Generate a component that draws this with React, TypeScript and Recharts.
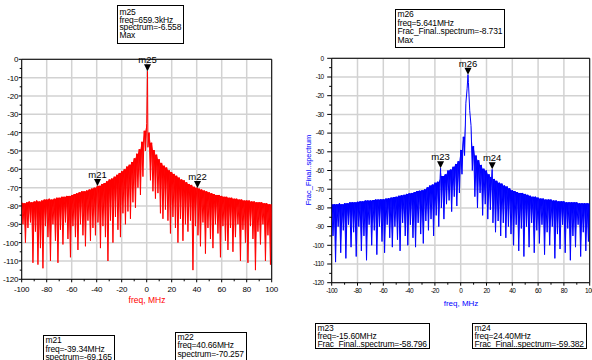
import { ComposedChart, Line, Area, XAxis, YAxis, CartesianGrid, ReferenceDot, ReferenceArea } from 'recharts';

// spectrum levels in dB, one value per MHz from -100 to +100
const redLevels = [
  -78, -90, -78.5, -100, -78, -92, -77.5, -89, -78, -111,
  -77.5, -94, -77, -112, -77.5, -103, -77, -114, -76.5, -91,
  -76.5, -97, -76, -110, -76.5, -90, -76, -99, -75.5, -111,
  -75.5, -93, -75, -101, -75, -89, -74.5, -98, -74.5, -108,
  -74, -91, -73.5, -97, -73, -104, -72.5, -90, -72, -96,
  -72, -102, -71.5, -88, -71, -99, -70.5, -92, -70, -96,
  -69.5, -89, -69, -103, -68, -91, -67.5, -97, -66.5, -110,
  -65.5, -88, -65, -100, -64, -86, -63, -93, -62, -97,
  -61, -84, -60, -90, -58.5, -83, -57.5, -87, -56, -78,
  -54, -81, -51.5, -70, -49, -74, -45, -64, -39, -50,
  -35,
  -48, -40, -66, -45.5, -72, -49.5, -76, -52, -73, -54.5,
  -84, -56.5, -87, -58, -82, -59, -88, -60.5, -95, -61.5,
  -86, -62.5, -92, -63.5, -100, -64.5, -87, -65.5, -99, -66,
  -90, -67, -94, -68, -88, -68.5, -115, -69.5, -91, -70,
  -96, -70.5, -102, -71, -89, -71.5, -106, -72, -92, -72.5,
  -98, -73, -103, -73.5, -90, -74, -95, -74, -108, -74.5,
  -91, -75, -99, -75, -104, -75.5, -92, -75.5, -105, -76,
  -97, -76, -90, -76.5, -110, -76.5, -93, -77, -100, -77,
  -111, -77, -91, -77.5, -98, -77.5, -115, -78, -94, -78,
  -101, -78, -90, -78.5, -110, -78.5, -96, -79, -112, -79,
];

const blueLevels = [
  -78, -95, -78, -109, -78, -90, -77.5, -104, -78, -92,
  -77.5, -107, -77.5, -89, -77, -101, -77, -93, -77, -106,
  -76.7, -90, -76.5, -103, -76.5, -95, -76, -108, -76, -89,
  -76, -100, -75.8, -92, -75.5, -105, -75.5, -90, -75.4, -98,
  -75.4, -104, -75, -89, -74.8, -96, -74.5, -101, -74.2, -90,
  -74, -97, -73.5, -103, -73.2, -88, -73, -95, -72.5, -100,
  -72.2, -89, -72, -96, -71.5, -101, -71, -88, -70.8, -94,
  -70.5, -99, -70, -87, -69, -92, -68, -86, -67.5, -95,
  -66.5, -84, -66, -90, -64.5, -80, -63, -86, -62, -78,
  -60, -76, -59.5, -82, -58, -74, -56.5, -79, -55, -72,
  -49,
  -62, -42, -52, -24, -16, -13, -28, -36, -60, -47,
  -74, -52, -80, -54.5, -72, -57, -84, -59, -78, -60,
  -86, -62, -81, -63.5, -88, -64.5, -93, -65.5, -87, -66.5,
  -95, -67, -88, -68, -96, -68.5, -90, -69.5, -94, -70.5,
  -100, -71, -89, -71.5, -103, -72, -91, -72, -106, -72.5,
  -90, -73, -101, -73.5, -88, -74, -104, -74, -92, -74.5,
  -99, -75, -89, -75, -105, -75.5, -93, -75.5, -100, -75.5,
  -90, -76, -107, -76, -94, -76.5, -102, -76.5, -89, -76.5,
  -104, -77, -91, -77, -108, -77, -95, -77, -101, -77,
  -89, -77.5, -106, -77.5, -93, -77.5, -103, -77.5, -98, -77.5,
];

type Marker = { name: string; freq: number; value: number; freqText: string; max?: boolean };

const leftMarkers: Marker[] = [
  { name: 'm25', freq: 0.6593, value: -6.558, freqText: '659.3kHz', max: true },
  { name: 'm21', freq: -39.34, value: -69.165, freqText: '-39.34MHz' },
  { name: 'm22', freq: 40.66, value: -70.257, freqText: '40.66MHz' },
];

const rightMarkers: Marker[] = [
  { name: 'm26', freq: 5.641, value: -8.731, freqText: '5.641MHz', max: true },
  { name: 'm23', freq: -15.6, value: -58.796, freqText: '-15.60MHz' },
  { name: 'm24', freq: 24.4, value: -59.382, freqText: '24.40MHz' },
];

const freqTicks = [-100, -90, -80, -70, -60, -50, -40, -30, -20, -10, 0, 10, 20, 30, 40, 50, 60, 70, 80, 90, 100];
const freqGrid = [-100, -80, -60, -40, -20, 0, 20, 40, 60, 80, 100];
const levelTicks = [0, -5, -10, -15, -20, -25, -30, -35, -40, -45, -50, -55, -60, -65, -70, -75, -80, -85, -90, -95, -100, -105, -110, -115, -120];
const levelGrid = [0, -10, -20, -30, -40, -50, -60, -70, -80, -90, -100, -110, -120];

const FONT = '"Liberation Sans", Arial, Helvetica, sans-serif';

// merge the per-MHz samples with the marker readings, and add a band that fills
// the comb between neighbouring peaks (the trace is far denser than the pixels)
const buildTrace = (levels: number[], markers: Marker[]) => {
  const pts = [
    ...levels.map((level, i) => ({ freq: i - 100, level })),
    ...markers.map((m) => ({ freq: m.freq, level: m.value })),
  ].sort((a, b) => a.freq - b.freq);
  return pts.map((p, i) => {
    const prev = pts[i - 1] ? pts[i - 1].level : p.level;
    const next = pts[i + 1] ? pts[i + 1].level : p.level;
    const cap = Math.max(p.level, Math.min(prev, next));
    return { ...p, band: [p.level, cap] };
  });
};

type AxisStyle = {
  font: number;
  xLabelDy: number;
  yLabelDx: number;
  yMajor: number;
  yMinor: number;
  xMajor: number;
  xMinor: number;
  spacing: number;
};

const makeXTick = (s: AxisStyle) => (p: any) => {
  const v = p.payload.value;
  const major = v % 20 === 0;
  return (
    <g>
      <line x1={p.x} x2={p.x} y1={p.y} y2={p.y + (major ? s.xMajor : s.xMinor)} stroke="#000" />
      {major && (
        <text x={p.x} y={p.y + s.xLabelDy} textAnchor="middle" fontSize={s.font} fontFamily={FONT} letterSpacing={s.spacing} fill="#000">
          {v}
        </text>
      )}
    </g>
  );
};

const makeYTick = (s: AxisStyle) => (p: any) => {
  const v = p.payload.value;
  const major = v % 10 === 0;
  return (
    <g>
      <line x1={p.x} x2={p.x - (major ? s.yMajor : s.yMinor)} y1={p.y} y2={p.y} stroke="#000" />
      {major && (
        <text x={p.x + s.yLabelDx} y={p.y + s.font * 0.36} textAnchor="end" fontSize={s.font} fontFamily={FONT} letterSpacing={s.spacing} fill="#000">
          {v}
        </text>
      )}
    </g>
  );
};

const markerShape = (name: string) => (p: any) => (
  <g>
    <polygon points={`${p.cx - 3.5},${p.cy - 7} ${p.cx + 3.5},${p.cy - 7} ${p.cx},${p.cy}`} fill="#000" />
    <text x={p.cx} y={p.cy - 8} textAnchor="middle" fontSize={9.5} fontFamily={FONT} fill="#000">
      {name}
    </text>
  </g>
);

type PanelProps = {
  left: number;
  width: number;
  top: number;
  right: number;
  yAxisWidth: number;
  xAxisHeight: number;
  color: string;
  levels: number[];
  markers: Marker[];
  axis: AxisStyle;
};

function SpectrumPanel({ left, width, top, right, yAxisWidth, xAxisHeight, color, levels, markers, axis }: PanelProps) {
  const data = buildTrace(levels, markers);
  return (
    <div style={{ position: 'absolute', left, top: 0 }}>
      <ComposedChart width={width} height={320} margin={{ top, right, left: 0, bottom: 0 }} data={data}>
        <CartesianGrid stroke="#d2d2d2" strokeWidth={1.5} horizontalValues={levelGrid} verticalValues={freqGrid} />
        <XAxis
          dataKey="freq"
          type="number"
          domain={[-100, 100]}
          ticks={freqTicks}
          interval={0}
          height={xAxisHeight}
          tickSize={0}
          tickMargin={0}
          axisLine={false}
          tickLine={false}
          tick={makeXTick(axis)}
          allowDataOverflow
        />
        <YAxis
          type="number"
          domain={[-120, 0]}
          ticks={levelTicks}
          interval={0}
          width={yAxisWidth}
          tickSize={0}
          tickMargin={0}
          axisLine={false}
          tickLine={false}
          tick={makeYTick(axis)}
          allowDataOverflow
        />
        <Area
          dataKey="band"
          type="linear"
          stroke="none"
          fill={color}
          fillOpacity={1}
          dot={false}
          activeDot={false}
          isAnimationActive={false}
        />
        <Line
          dataKey="level"
          type="linear"
          stroke={color}
          strokeWidth={1}
          strokeLinejoin="bevel"
          dot={false}
          activeDot={false}
          isAnimationActive={false}
        />
        <ReferenceArea x1={-100} x2={100} y1={-120} y2={0} fill="none" stroke="#000" strokeWidth={1} />
        {markers.map((m) => (
          <ReferenceDot key={m.name} x={m.freq} y={m.value} r={3} shape={markerShape(m.name)} />
        ))}
      </ComposedChart>
    </div>
  );
}

const boxLayout: Record<string, { left: number; top: number; height: number; lh: number; pt: number }> = {
  m25: { left: 117, top: 5, height: 39, lh: 7.7, pt: 3 },
  m26: { left: 395, top: 9, height: 39, lh: 8.7, pt: 0 },
  m21: { left: 43, top: 335, height: 30, lh: 8.5, pt: 0 },
  m22: { left: 175, top: 332, height: 30, lh: 8.4, pt: 0 },
  m23: { left: 315, top: 323, height: 26, lh: 8, pt: 0 },
  m24: { left: 472, top: 323, height: 26, lh: 8, pt: 0 },
};

function InfoBox({ m, prefix }: { m: Marker; prefix: string }) {
  const b = boxLayout[m.name];
  const lines = [m.name, `freq=${m.freqText}`, `${prefix}spectrum=${m.value}`];
  if (m.max) lines.push('Max');
  return (
    <div
      style={{
        position: 'absolute',
        left: b.left,
        top: b.top,
        height: b.height,
        boxSizing: 'border-box',
        border: '1px solid #000',
        background: '#fff',
        paddingTop: b.pt,
        paddingLeft: 1.5,
        paddingRight: 2,
        fontSize: 8.5,
        lineHeight: `${b.lh}px`,
        letterSpacing: -0.15,
        whiteSpace: 'pre',
        overflow: 'hidden',
        color: '#000',
      }}
    >
      {lines.map((t) => (
        <div key={t}>{t}</div>
      ))}
    </div>
  );
}

const leftAxis: AxisStyle = { font: 8, xLabelDy: 12.5, yLabelDx: -3.5, yMajor: 3, yMinor: 2, xMajor: 3, xMinor: 2, spacing: -0.2 };
const rightAxis: AxisStyle = { font: 6.5, xLabelDy: 9.8, yLabelDx: -8, yMajor: 4.5, yMinor: 2.5, xMajor: 3, xMinor: 2, spacing: -0.5 };

export default function App() {
  return (
    <div style={{ position: 'absolute', left: 0, top: 0, width: 592, height: 360, overflow: 'hidden', background: '#fff', fontFamily: FONT }}>
      <SpectrumPanel
        left={0}
        width={300}
        top={59.3}
        right={28.3}
        yAxisWidth={21.7}
        xAxisHeight={40.7}
        color="#ff0000"
        levels={redLevels}
        markers={leftMarkers}
        axis={leftAxis}
      />
      <SpectrumPanel
        left={300}
        width={292}
        top={58.3}
        right={2.3}
        yAxisWidth={31.7}
        xAxisHeight={37.3}
        color="#0000ff"
        levels={blueLevels}
        markers={rightMarkers}
        axis={rightAxis}
      />
      <div style={{ position: 'absolute', left: 147, top: 300, transform: 'translate(-50%, -50%)', color: '#ff0000', fontSize: 8.5, whiteSpace: 'nowrap' }}>
        freq, MHz
      </div>
      <div style={{ position: 'absolute', left: 461, top: 303, transform: 'translate(-50%, -50%)', color: '#0000ff', fontSize: 8, whiteSpace: 'nowrap' }}>
        freq, MHz
      </div>
      <div style={{ position: 'absolute', left: 308, top: 170, transform: 'translate(-50%, -50%) rotate(-90deg)', color: '#0000ff', fontSize: 7.5, whiteSpace: 'nowrap' }}>
        Frac_Final..spectrum
      </div>
      {leftMarkers.map((m) => (
        <InfoBox key={m.name} m={m} prefix="" />
      ))}
      {rightMarkers.map((m) => (
        <InfoBox key={m.name} m={m} prefix="Frac_Final.." />
      ))}
    </div>
  );
}
